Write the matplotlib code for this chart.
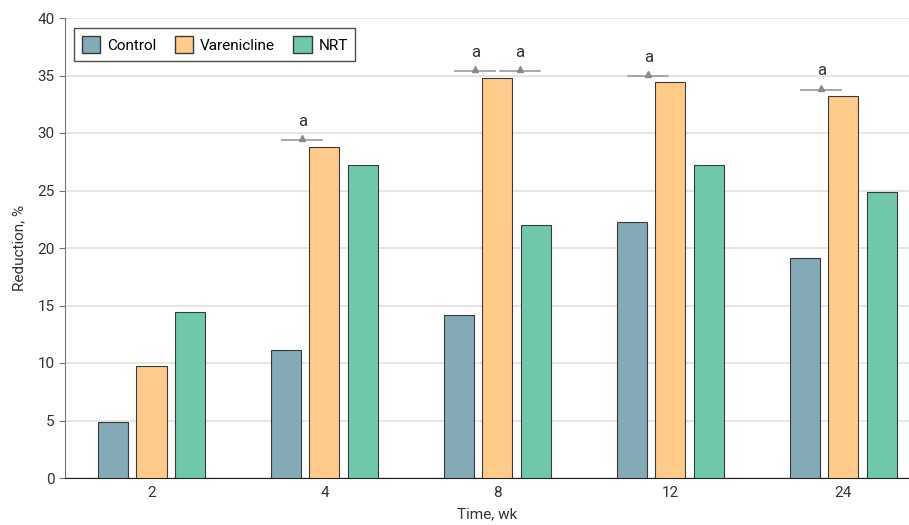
import numpy as np
import matplotlib.pyplot as plt
from matplotlib.patches import Patch

plt.rcParams['font.family'] = ['Roboto', 'DejaVu Sans']

weeks = ['2', '4', '8', '12', '24']
groups = ['Control', 'Varenicline', 'NRT']
control = [4.9, 11.1, 14.2, 22.3, 19.1]
varenicline = [9.7, 28.8, 34.8, 34.4, 33.2]
nrt = [14.4, 27.2, 22.0, 27.2, 24.9]
colors = ['#84a9b7', '#fecb8a', '#6fc8ab']

# significance marks: (week index, left bar, right bar)
sig_pairs = [(1, 0, 1), (2, 0, 1), (2, 1, 2), (3, 0, 1), (4, 0, 1)]

fig = plt.figure(figsize=(9.09, 5.25), dpi=100)
ax = fig.add_axes([65 / 909, 47 / 525, 844 / 909, 460 / 525])

x = np.arange(len(weeks))
width = 0.174
step = 0.223
series = [control, varenicline, nrt]
for i, (vals, c) in enumerate(zip(series, colors)):
    ax.bar(x + (i - 1) * step, vals, width, color=c, edgecolor='#3a3a3a',
           linewidth=0.8, zorder=3)

for wk, a, b in sig_pairs:
    xa = x[wk] + (a - 1) * step
    xb = x[wk] + (b - 1) * step
    mid = (xa + xb) / 2 + (-0.016 if a == 0 else 0.02)
    top = max(series[a][wk], series[b][wk]) + 0.55
    ax.plot([mid - 0.115, mid + 0.115], [top, top], color='#9a9a9a',
            lw=1.2, zorder=4)
    ax.plot(mid, top + 0.2, marker='^', color='#8a8a8a',
            markersize=5, zorder=4)
    ax.text(mid, top + 1.65, 'a', ha='center', va='center',
            fontsize=12, color='#333333')

ax.set_xlim(-0.5, 4.38)
ax.set_ylim(0, 40)
ax.set_yticks(range(0, 41, 5))
ax.set_xticks(x)
ax.set_xticklabels(weeks)
ax.tick_params(axis='both', labelsize=11, colors='#333333')
ax.tick_params(axis='y', length=4, color='#777777')
ax.tick_params(axis='x', length=0, pad=6)
ax.grid(axis='y', color='#e2e2e2', lw=1.2, zorder=0)
ax.set_axisbelow(True)
for s in ['top', 'right']:
    ax.spines[s].set_visible(False)
ax.spines['left'].set_color('#777777')
ax.spines['bottom'].set_color('#222222')

ax.set_xlabel('Time, wk', fontsize=11, color='#333333', labelpad=5)
ax.set_ylabel('Reduction, %', fontsize=11, color='#333333', labelpad=8)

handles = [Patch(facecolor=c, edgecolor='#3a3a3a', label=g)
           for g, c in zip(groups, colors)]
leg = ax.legend(handles=handles, ncol=3, loc='upper left',
                bbox_to_anchor=(0.011, 0.978), fontsize=11, frameon=True,
                fancybox=False, edgecolor='#222222', handlelength=1.2,
                handleheight=1.4, handletextpad=0.45, columnspacing=1.2,
                borderpad=0.5, borderaxespad=0)
leg.get_frame().set_linewidth(1.0)

fig.savefig('out.png', dpi=100)
